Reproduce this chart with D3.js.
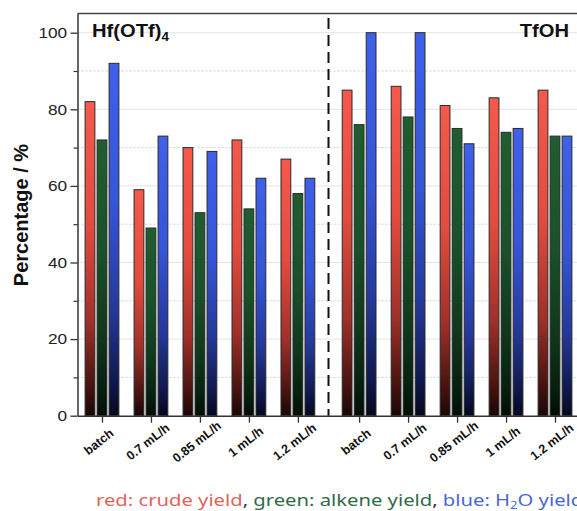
<!DOCTYPE html>
<html><head><meta charset="utf-8">
<script src="https://cdn.jsdelivr.net/npm/d3@7"></script>
<style>
html,body{margin:0;padding:0;background:#fff;}
svg{display:block;}
</style></head>
<body>
<svg id="chart" width="577" height="511"></svg>
<script>
// ---- data ----
const categories = ["batch", "0.7 mL/h", "0.85 mL/h", "1 mL/h", "1.2 mL/h"];
const catalysts = ["Hf(OTf)4", "TfOH"];
const crudeYield  = [82, 59, 70, 72, 67,   85, 86, 81, 83, 85];
const alkeneYield = [72, 49, 53, 54, 58,   76, 78, 75, 74, 73];
const waterYield  = [92, 73, 69, 62, 62,  100, 100, 71, 75, 73];
const seriesNames = ["crude", "alkene", "water"];
const majorTicks = [0, 20, 40, 60, 80, 100];
const minorTicks = [10, 30, 50, 70, 90];

const series = [crudeYield, alkeneYield, waterYield];
const svg = d3.select("#chart");

// positions: two groups of five categories, gap between groups
const groupGap = 0.25;
const points = [];
catalysts.forEach((c, g) => {
  categories.forEach((cat, i) => {
    points.push({catalyst: c, category: cat, pos: g * (categories.length + groupGap) + i + 1, idx: g * categories.length + i});
  });
});
const positions = points.map(d => d.pos);

const x = d3.scaleLinear().domain([0.5, 10.75]).range([77.5, 579.5]);
const y = d3.scaleLinear().domain([0, 105]).range([415.7, 13.55]);
const unit = x(2) - x(1);

// gradients
const defs = svg.append("defs");
const gradStops = {
  crude:  [["0%", "#f5594b"], ["40%", "#e24b3e"], ["70%", "#a0302a"], ["90%", "#4a1410"], ["100%", "#1a0606"]],
  alkene: [["0%", "#1f5e31"], ["40%", "#1a512a"], ["70%", "#10381c"], ["90%", "#06200e"], ["100%", "#020d05"]],
  water:  [["0%", "#3f60e8"], ["40%", "#3655d8"], ["70%", "#25399a"], ["90%", "#101a50"], ["100%", "#05081e"]]
};
seriesNames.forEach(n => {
  const g = defs.append("linearGradient").attr("id", "g-" + n)
    .attr("x1", 0).attr("y1", 0).attr("x2", 0).attr("y2", 1);
  gradStops[n].forEach(s => g.append("stop").attr("offset", s[0]).attr("stop-color", s[1]));
});

// gridlines
svg.append("g").selectAll("line.minor").data(minorTicks).join("line")
  .attr("x1", x.range()[0]).attr("x2", x.range()[1])
  .attr("y1", d => y(d)).attr("y2", d => y(d))
  .attr("stroke", "#cfcfcf").attr("stroke-width", 1).attr("stroke-dasharray", "2,2");
svg.append("g").selectAll("line.major").data(majorTicks.filter(d => d > 0)).join("line")
  .attr("x1", x.range()[0]).attr("x2", x.range()[1])
  .attr("y1", d => y(d)).attr("y2", d => y(d))
  .attr("stroke", "#e4e4e4").attr("stroke-width", 1);

// bars
const barW = unit * 0.2;
const barOff = unit * 0.245;
seriesNames.forEach((n, si) => {
  svg.append("g").selectAll("rect").data(points).join("rect")
    .attr("x", d => x(d.pos) + (si - 1) * barOff - barW / 2)
    .attr("width", barW)
    .attr("y", d => y(series[si][d.idx]))
    .attr("height", d => y(0) - y(series[si][d.idx]))
    .attr("fill", "url(#g-" + n + ")")
    .attr("stroke", "#2a2a2a").attr("stroke-width", 1);
});

// divider
const divX = (x(positions[4]) + x(positions[5])) / 2;
svg.append("line").attr("x1", divX).attr("x2", divX).attr("y1", 18).attr("y2", y(0))
  .attr("stroke", "#111").attr("stroke-width", 2).attr("stroke-dasharray", "11,6");

// top border
svg.append("line").attr("x1", x.range()[0]).attr("x2", x.range()[1])
  .attr("y1", y(105)).attr("y2", y(105)).attr("stroke", "#444").attr("stroke-width", 1.5);

// y axis
const ax = svg.append("g").attr("transform", `translate(${x.range()[0]},0)`)
  .call(d3.axisLeft(y).tickValues(majorTicks).tickSize(7).tickSizeOuter(0).tickPadding(2));
ax.select(".domain").attr("stroke", "#333").attr("stroke-width", 1.5);
ax.selectAll(".tick line").attr("stroke", "#333").attr("stroke-width", 1.3);
ax.selectAll(".tick text").attr("font-family", "Liberation Sans, Arial, sans-serif")
  .attr("font-size", 15).attr("fill", "#222").attr("transform", "scale(1.15,1)");
const axm = svg.append("g").attr("transform", `translate(${x.range()[0]},0)`)
  .call(d3.axisLeft(y).tickValues(minorTicks).tickSize(4).tickSizeOuter(0).tickFormat(""));
axm.select(".domain").remove();
axm.selectAll(".tick line").attr("stroke", "#333").attr("stroke-width", 1.2);

// x axis
const bx = svg.append("g").attr("transform", `translate(0,${y(0)})`)
  .call(d3.axisBottom(x).tickValues(positions).tickSize(7).tickSizeOuter(0).tickFormat(""));
bx.select(".domain").attr("stroke", "#333").attr("stroke-width", 1.5);
bx.selectAll(".tick line").attr("stroke", "#333").attr("stroke-width", 1.3);

svg.append("g").selectAll("text").data(points).join("text")
  .attr("transform", d => `translate(${x(d.pos) - 3},442) rotate(-38)`)
  .attr("text-anchor", "middle").attr("dominant-baseline", "central")
  .attr("font-family", "Liberation Sans, Arial, sans-serif").attr("font-weight", "bold")
  .attr("font-size", 12.5).attr("fill", "#111")
  .text(d => d.category);

// y label
svg.append("text").attr("transform", "translate(27.5,215) rotate(-90)")
  .attr("text-anchor", "middle")
  .attr("font-family", "Liberation Sans, Arial, sans-serif").attr("font-weight", "bold")
  .attr("font-size", 20).attr("fill", "#111").text("Percentage / %");

// catalyst labels
const t1 = svg.append("text").attr("transform", "translate(92,36.7) scale(1.12,1)")
  .attr("font-family", "Liberation Sans, Arial, sans-serif").attr("font-weight", "bold")
  .attr("font-size", 18).attr("fill", "#111");
t1.append("tspan").text("Hf(OTf)");
t1.append("tspan").attr("font-size", 12).attr("dy", 4).text("4");

svg.append("text").attr("transform", "translate(569,36.5) scale(1.12,1)")
  .attr("text-anchor", "end")
  .attr("font-family", "Liberation Sans, Arial, sans-serif").attr("font-weight", "bold")
  .attr("font-size", 18).attr("fill", "#111").text(catalysts[1]);

// caption legend (cut off at the right edge, as in the reference)
const lg = svg.append("text").attr("transform", "translate(96,506) scale(1.19,1)")
  .attr("font-family", "Noto Sans, Open Sans, sans-serif").attr("font-size", 17);
lg.append("tspan").attr("fill", "#e0645a").text("red: crude yield");
lg.append("tspan").attr("fill", "#333").text(", ");
lg.append("tspan").attr("fill", "#2f6b48").text("green: alkene yield");
lg.append("tspan").attr("fill", "#333").text(", ");
lg.append("tspan").attr("fill", "#4a68d2").text("blue: H");
lg.append("tspan").attr("fill", "#4a68d2").attr("font-size", 11).attr("dy", 3).text("2");
lg.append("tspan").attr("fill", "#4a68d2").attr("dy", -3).text("O yield");
</script>
</body></html>
